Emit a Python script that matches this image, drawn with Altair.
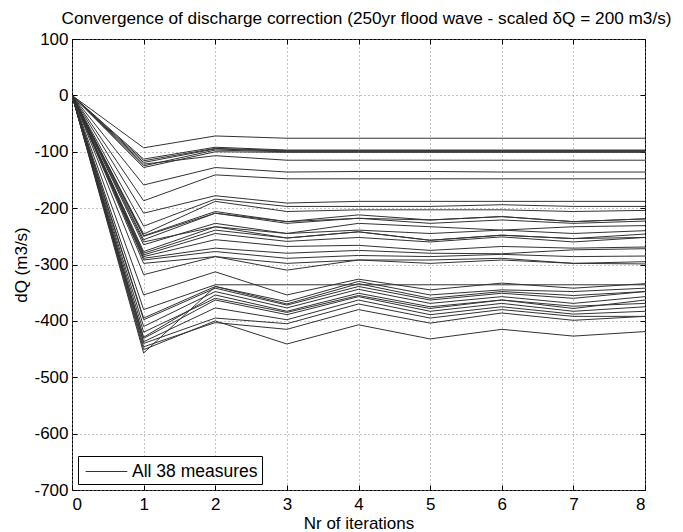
import altair as alt
import pandas as pd

iterations = [0, 1, 2, 3, 4, 5, 6, 7, 8]
y_ticks = [-700, -600, -500, -400, -300, -200, -100, 0, 100]

# values at iterations 1..8 (iteration 0 is always 0)
upper = [
    [-93, -72, -76, -76, -76, -76, -76, -76],
    [-113, -92, -97, -97, -97, -97, -97, -97],
    [-116, -94, -98, -98, -98, -98, -98, -98],
    [-119, -95, -99, -99, -99, -99, -99, -99],
    [-125, -97, -100, -100, -100, -100, -100, -100],
    [-128, -100, -101, -101, -101, -101, -101, -101],
    [-122, -107, -115, -115, -115, -115, -115, -115],
    [-159, -128, -136, -135, -135, -136, -136, -136],
    [-187, -141, -148, -148, -148, -148, -148, -148],
]
middle = [
    [-209, -178, -191, -188, -188, -188, -188, -188],
    [-232, -184, -197, -197, -197, -194, -197, -197],
    [-246, -188, -206, -203, -203, -203, -206, -204],
    [-249, -206, -224, -212, -221, -215, -224, -219],
    [-250, -209, -224, -218, -221, -215, -224, -219],
    [-256, -209, -227, -218, -227, -221, -227, -223],
    [-265, -227, -245, -227, -233, -239, -233, -231],
    [-277, -233, -245, -239, -245, -239, -245, -240],
    [-260, -233, -253, -242, -257, -248, -254, -252],
    [-280, -239, -253, -242, -257, -248, -254, -246],
    [-283, -245, -259, -252, -260, -251, -260, -252],
    [-286, -256, -268, -266, -275, -268, -271, -269],
    [-289, -271, -280, -275, -280, -281, -274, -272],
    [-292, -277, -289, -284, -286, -282, -286, -285],
    [-298, -286, -298, -292, -292, -289, -298, -295],
    [-318, -286, -310, -292, -298, -292, -298, -299],
]
lower = [
    [-354, -313, -354, -326, -345, -333, -342, -334],
    [-380, -336, -336, -336, -336, -336, -336, -336],
    [-395, -339, -366, -330, -354, -345, -348, -342],
    [-398, -342, -372, -339, -363, -351, -360, -348],
    [-457, -339, -370, -334, -360, -348, -355, -348],
    [-410, -348, -377, -344, -369, -357, -369, -357],
    [-429, -354, -383, -351, -375, -363, -378, -363],
    [-420, -360, -385, -355, -378, -363, -374, -369],
    [-431, -363, -389, -357, -383, -369, -383, -375],
    [-437, -377, -398, -363, -389, -375, -388, -383],
    [-440, -395, -405, -370, -395, -380, -392, -392],
    [-446, -403, -415, -380, -404, -386, -399, -392],
    [-451, -400, -441, -407, -432, -415, -427, -419],
]

legend_label = "All 38 measures"
title_text = "Convergence of discharge correction (250yr flood wave - scaled \u03b4Q = 200 m3/s)"
all_lines = upper + middle + lower

rows = []
for k, vals in enumerate(all_lines):
    for it, v in zip(iterations, [0] + vals):
        rows.append({"measure": k, "iteration": it, "dQ": v, "series": legend_label})
df = pd.DataFrame(rows)

FONT = "Liberation Sans"
x_scale = alt.Scale(domain=[0, 8], nice=False)
y_scale = alt.Scale(domain=[-700, 100], nice=False)

main = (
    alt.Chart(df)
    .mark_line(strokeWidth=1, clip=True)
    .encode(
        x=alt.X(
            "iteration:Q",
            scale=x_scale,
            axis=alt.Axis(values=iterations, title="Nr of iterations",
                          labelExpr="toString(datum.value)",
                          offset=-5, labelPadding=6, titlePadding=3),
        ),
        y=alt.Y(
            "dQ:Q",
            scale=y_scale,
            axis=alt.Axis(values=y_ticks, title="dQ (m3/s)",
                          labelExpr="toString(datum.value)",
                          offset=-5, labelPadding=4, titlePadding=3),
        ),
        detail="measure:N",
        color=alt.Color(
            "series:N",
            scale=alt.Scale(range=["#333333"]),
            legend=alt.Legend(
                title=None,
                orient="bottom-left",
                offset=6,
                symbolType="M-1.9,0H1.9",
                symbolSize=480,
                symbolStrokeWidth=1,
                symbolStrokeColor="#555555",
                symbolOffset=13,
                labelOffset=14,
                labelFontSize=17.5,
                labelFont=FONT,
                labelColor="black",
                padding=4,
                strokeColor="black",
                fillColor="white",
            ),
        ),
    )
)

# ticks only, on the top and right edges (pointing inward)
frame_ticks = (
    alt.Chart(df)
    .mark_line(opacity=0)
    .encode(
        x=alt.X("iteration:Q", scale=x_scale,
                axis=alt.Axis(orient="top", values=iterations, labels=False, title=None,
                              grid=False, offset=-5)),
        y=alt.Y("dQ:Q", scale=y_scale,
                axis=alt.Axis(orient="right", values=y_ticks, labels=False, title=None,
                              grid=False, offset=-5)),
        detail="measure:N",
    )
)

chart = (
    alt.layer(main, frame_ticks)
    .resolve_axis(x="independent", y="independent")
    .properties(
        width=573,
        height=451,
        autosize=alt.AutoSizeParams(type="none"),
        padding={"left": 64, "top": 31, "right": 30, "bottom": 42},
        title=alt.TitleParams(
            title_text,
            font=FONT,
            fontSize=17.2,
            fontWeight="normal",
            color="black",
            anchor="middle",
            frame="group",
            offset=3,
            dx=8,
        ),
    )
    .configure_view(stroke="black", strokeWidth=1)
    .configure_axis(
        labelFont=FONT,
        titleFont=FONT,
        labelFontSize=17,
        titleFontSize=17,
        titleFontWeight="normal",
        labelColor="black",
        titleColor="black",
        domain=False,
        ticks=True,
        tickSize=5,
        tickColor="black",
        tickWidth=1,
        grid=True,
        gridColor="#8a8a8a",
        gridDash=[1, 3],
        gridWidth=1,
    )
)

chart.save("out.html", embed_options={"renderer": "svg", "actions": False})
